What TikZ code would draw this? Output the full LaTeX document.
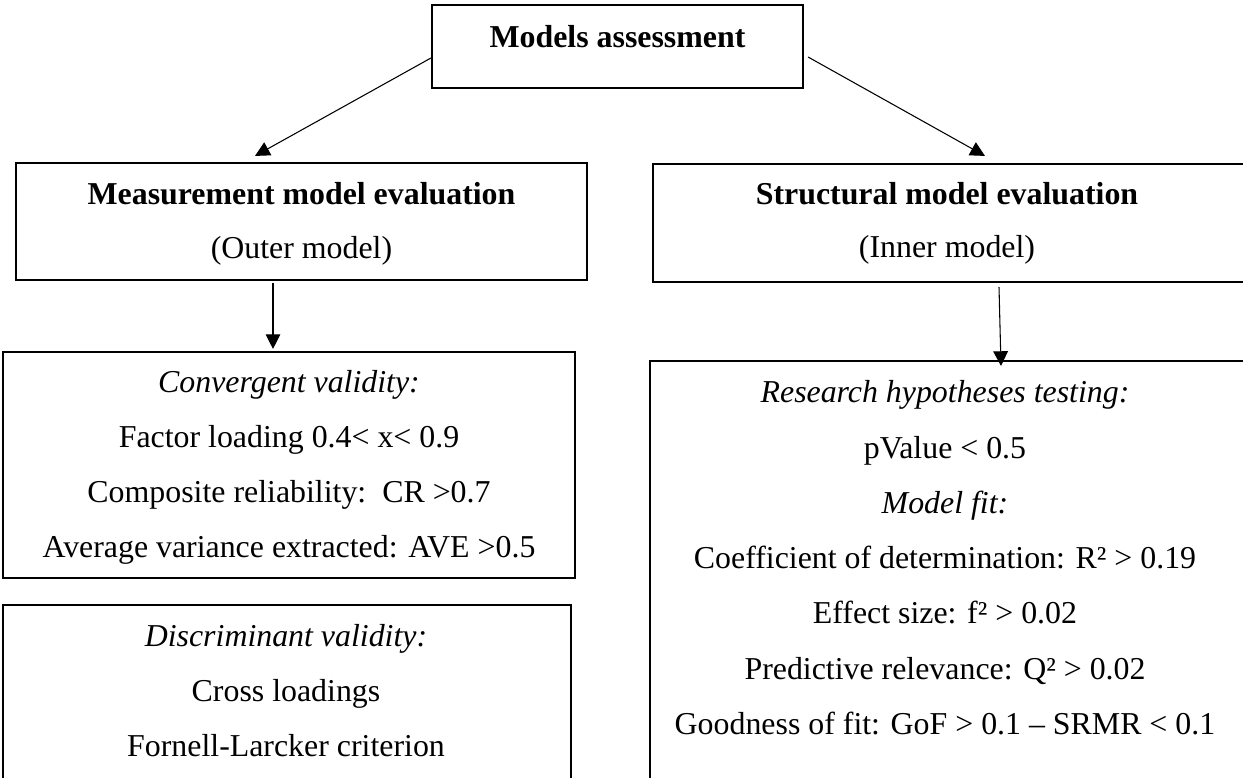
\documentclass[tikz,border=0pt]{standalone}
\usepackage{fontspec}
\setmainfont{Liberation Serif}
\usetikzlibrary{arrows.meta,calc,fit}
\begin{document}
\begin{tikzpicture}[x=0.75pt,y=-0.75pt,
  frame/.style={draw, line width=1.6pt, inner sep=0pt},
  txt/.style={font=\fontsize{23.9pt}{28pt}\selectfont, anchor=base, inner sep=0pt},
  boldtxt/.style={txt, font=\fontsize{23.9pt}{28pt}\selectfont\bfseries},
  ittxt/.style={txt, font=\fontsize{23.9pt}{28pt}\selectfont\itshape},
  link/.style={line width=0.8pt, -{Triangle[length=11pt,width=11pt]}}]
\useasboundingbox (0,0) rectangle (1243,778);
\clip (0,0) rectangle (1243,778);

% boxes
\node[frame, fit={(432,5) (803,88)}] (top) {};
\node[frame, fit={(16,163) (587,280)}] (meas) {};
\node[frame, fit={(653,164) (1246,282)}] (struct) {};
\node[frame, fit={(3,352) (575,578)}] (conv) {};
\node[frame, fit={(3,605) (571,790)}] (disc) {};
\node[frame, fit={(650,361) (1246,790)}] (res) {};

% headings
\node[boldtxt] (topT) at (617.5,47) {Models assessment};
\node[boldtxt] (measT) at (301.5,204) {Measurement model evaluation};
\node[txt] (measS) at (301.5,258) {(Outer model)};
\node[boldtxt] (structT) at (947,204) {Structural model evaluation};
\node[txt] (structS) at (947,257) {(Inner model)};

% convergent validity
\node[ittxt] (conv1) at (289,392) {Convergent validity:};
\node[txt] (conv2) at (289,447) {Factor loading 0.4< x< 0.9};
\node[txt] (conv3) at (289,502) {Composite reliability:\ \ CR >0.7};
\node[txt] (conv4) at (289,557) {Average variance extracted: AVE >0.5};

% discriminant validity
\node[ittxt] (disc1) at (286,646) {Discriminant validity:};
\node[txt] (disc2) at (286,701) {Cross loadings};
\node[txt] (disc3) at (286,756) {Fornell-Larcker criterion};

% structural criteria
\node[ittxt] (res1) at (945,402) {Research hypotheses testing:};
\node[txt] (res2) at (945,458) {pValue < 0.5};
\node[ittxt] (res3) at (945,513) {Model fit:};
\node[txt] (res4) at (945,568) {Coefficient of determination: R² > 0.19};
\node[txt] (res5) at (945,623.5) {Effect size: f² > 0.02};
\node[txt] (res6) at (945,679) {Predictive relevance: Q² > 0.02};
\node[txt] (res7) at (945,734) {Goodness of fit: GoF > 0.1 – SRMR < 0.1};

% connectors
\draw[link] ($(top.west)+(0,11.5)$) -- ($(meas.north)+(-46.5,-6)$);
\draw[link] ($(top.east)+(4,10.5)$) -- ($(struct.north)+(35.5,-7)$);
\draw[link] ($(meas.south)+(-28.5,2)$) -- ($(conv.north)+(-16,-2)$);
\draw[link] ($(struct.south)+(49.5,4)$) -- ($(res.north)+(53,6)$);
\end{tikzpicture}
\end{document}
